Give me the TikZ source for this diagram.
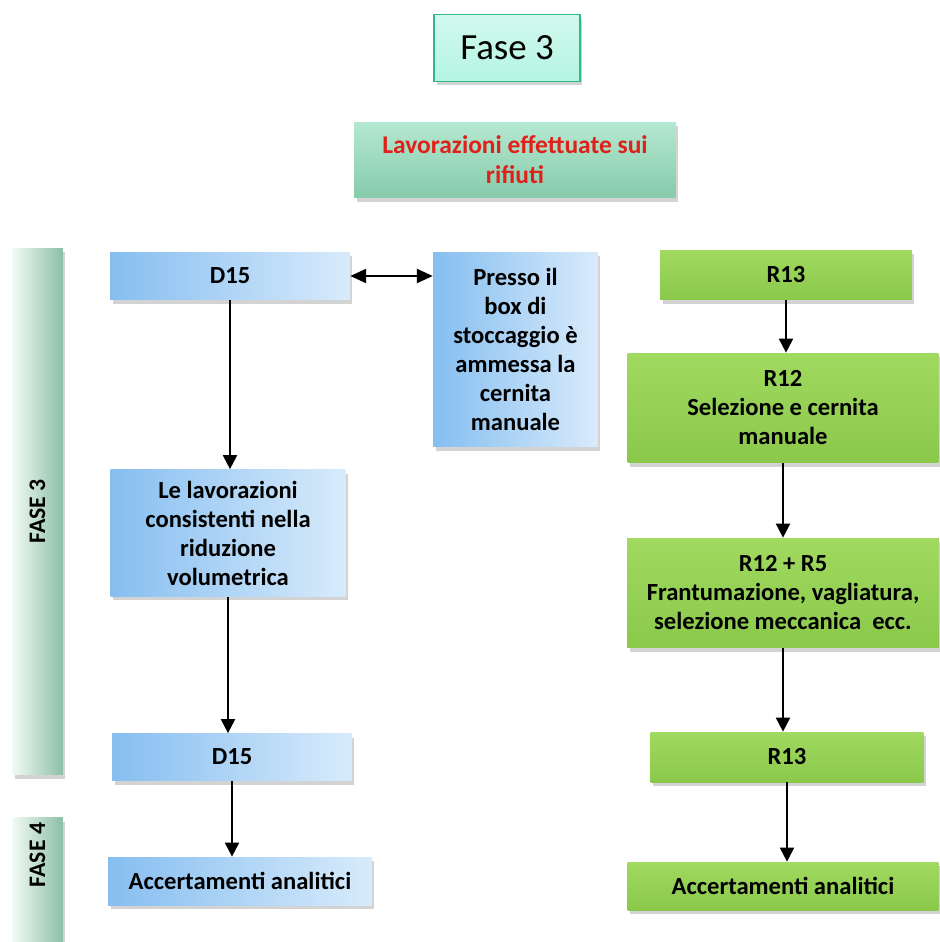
\documentclass[tikz,border=0pt]{standalone}
\usepackage{fontspec}
\setmainfont{Carlito}
\usetikzlibrary{arrows.meta,shadows}

\definecolor{blueL}{HTML}{86BEF0}
\definecolor{blueR}{HTML}{D8EBFB}
\definecolor{greenT}{HTML}{A0DA60}
\definecolor{greenB}{HTML}{8AC84A}
\definecolor{mintT}{HTML}{B4E8D0}
\definecolor{mintB}{HTML}{86CBAB}
\definecolor{titleF}{HTML}{B4F5E2}
\definecolor{titleD}{HTML}{34B592}
\definecolor{redtxt}{HTML}{E0201B}
\definecolor{barL}{HTML}{F2FBF6}
\definecolor{barM}{HTML}{B0E5CC}
\definecolor{barR}{HTML}{8CBFA6}

\begin{document}
\begin{tikzpicture}
  [x=0.02cm,y=-0.02cm,
   shade/.style={drop shadow={shadow xshift=0.5mm,shadow yshift=-0.8mm,opacity=0.35}},
   box/.style={rectangle,inner sep=2pt,align=center,shade,
     font=\bfseries\fontsize{14}{16.5}\selectfont},
   bluebox/.style={box,left color=blueL,right color=blueR},
   greenbox/.style={box,top color=greenT,bottom color=greenB},
   fasebar/.style={rectangle,shade,left color=barL,middle color=barM,right color=barR,
     minimum width=1.02cm},
   faselabel/.style={rotate=90,font=\bfseries\fontsize{13.5}{15}\selectfont},
   arr/.style={-{Triangle[width=8pt,length=8pt]},line width=1.1pt},
   dblarr/.style={{Triangle[width=8pt,length=9pt]}-{Triangle[width=8pt,length=9pt]},line width=1.1pt}]

  \useasboundingbox (0,0) rectangle (939,942);

  % titolo e intestazione
  \node[rectangle,draw=titleD,line width=1.1pt,top color=titleF!60!white,bottom color=titleF,
    minimum width=2.92cm,minimum height=1.34cm,font=\fontsize{21}{24}\selectfont,shade]
    (titolo) at (507,48) {Fase 3};
  \node[box,top color=mintT,bottom color=mintB,minimum width=6.44cm,minimum height=1.52cm,
    text=redtxt,font=\bfseries\fontsize{14.5}{17}\selectfont] (lav) at (515,160)
    {Lavorazioni effettuate sui\\rifiuti};

  % barre laterali
  \node[fasebar,minimum height=10.54cm] (bar3) at (37.5,511.5) {};
  \node[faselabel] (fase3) at (bar3.center) {FASE 3};
  \node[fasebar,minimum height=2.9cm] (bar4) at (37.5,890) {};
  \node[faselabel] (fase4) at (37.5,855) {FASE 4};

  % colonna D15
  \node[bluebox,minimum width=4.8cm,minimum height=0.96cm] (d15a) at (230,276) {D15};
  \node[bluebox,minimum width=3.3cm,minimum height=3.9cm] (presso) at (515.5,349.5)
    {Presso il\\box di\\stoccaggio è\\ammessa la\\cernita\\manuale};
  \node[bluebox,minimum width=4.7cm,minimum height=2.54cm] (riduz) at (228,533)
    {Le lavorazioni\\consistenti nella\\riduzione\\volumetrica};
  \node[bluebox,minimum width=4.8cm,minimum height=0.94cm] (d15b) at (232,757) {D15};
  \node[bluebox,minimum width=5.28cm,minimum height=0.96cm] (accd) at (240,881)
    {Accertamenti analitici};

  % colonna R13
  \node[greenbox,minimum width=5.04cm,minimum height=1.0cm] (r13a) at (786,275) {R13};
  \node[greenbox,minimum width=6.22cm,minimum height=2.2cm] (r12) at (783,408)
    {R12\\Selezione e cernita\\manuale};
  \node[greenbox,minimum width=6.24cm,minimum height=2.2cm] (r12r5) at (783,593)
    {R12 + R5\\Frantumazione, vagliatura,\\selezione meccanica\ \ ecc.};
  \node[greenbox,minimum width=5.46cm,minimum height=1.0cm] (r13b) at (787,757) {R13};
  \node[greenbox,minimum width=6.22cm,minimum height=0.96cm] (accr) at (783,886)
    {Accertamenti analitici};

  \draw[dblarr] (d15a.east) -- (d15a.east -| presso.west);

  \foreach \from/\to in {d15a/riduz,riduz/d15b,d15b/accd,r13a/r12,r12/r12r5,r12r5/r13b,r13b/accr}
    \draw[arr] (\from.south) -- (\from.south |- \to.north);
\end{tikzpicture}
\end{document}
